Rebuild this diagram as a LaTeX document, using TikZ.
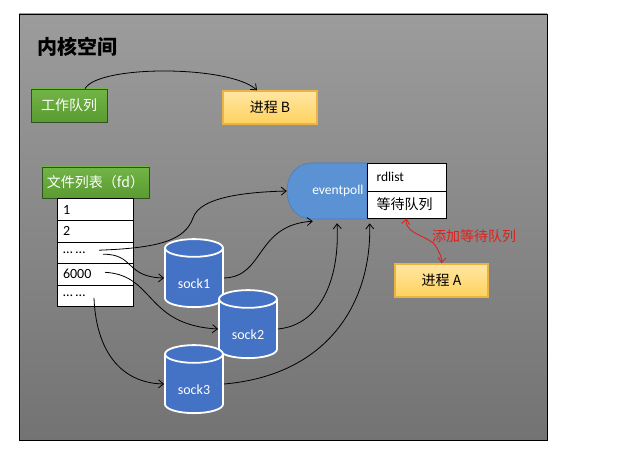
\documentclass[tikz,border=0pt]{standalone}
\usepackage{fontspec}
\setmainfont{Carlito}
\newfontfamily\cjk{Noto Sans CJK SC}
\usetikzlibrary{arrows.meta,shapes.geometric,calc}
\definecolor{panelTop}{HTML}{9C9C9C}
\definecolor{panelBot}{HTML}{737373}
\definecolor{grnTop}{HTML}{73B447}
\definecolor{grnBot}{HTML}{5A9B32}
\definecolor{grnLine}{HTML}{2F5220}
\definecolor{ylwTop}{HTML}{FFE6A3}
\definecolor{ylwBot}{HTML}{FFD25E}
\definecolor{ylwLine}{HTML}{E9B443}
\definecolor{epFill}{HTML}{5A92D4}
\definecolor{epLine}{HTML}{4A7EBE}
\definecolor{cylFill}{HTML}{4472C4}
\definecolor{redArrow}{HTML}{E0201C}
\newcommand{\lowtext}[1]{\raisebox{-10pt}[0pt][0pt]{#1}}
\begin{document}
\begin{tikzpicture}[x=1pt,y=-1pt,
  greenbox/.style={draw=grnLine, line width=0.8pt, top color=grnTop, bottom color=grnBot, text=white, font=\cjk\fontsize{14}{14}\selectfont, inner sep=0pt},
  yellowbox/.style={draw=ylwLine, line width=1.4pt, top color=ylwTop, bottom color=ylwBot, text=black, font=\cjk\fontsize{14}{14}\selectfont, inner sep=0pt, minimum width=93pt, minimum height=33pt},
  fdrow/.style={draw=black, line width=0.8pt, fill=white, minimum width=76pt, minimum height=21.6pt, inner sep=0pt, text width=64pt, align=left, font=\fontsize{14}{14}\selectfont},
  rdrow/.style={draw=black, line width=0.8pt, fill=white, minimum width=79pt, inner sep=0pt, text width=60pt, align=left},
  sock/.style={cylinder, shape border rotate=90, aspect=0.55, draw=white, line width=1.8pt, fill=cylFill, minimum width=58pt, minimum height=68pt, inner sep=0pt, text=white, font=\fontsize{14}{14}\selectfont},
  link/.style={-{Straight Barb[length=5pt,width=8pt]}, line width=0.8pt, black},
  redlink/.style={{Straight Barb[length=5pt,width=8pt]}-{Straight Barb[length=5pt,width=8pt]}, line width=0.9pt, redArrow}
]
\useasboundingbox (0,0) rectangle (623,454);
\shade[top color=panelTop, bottom color=panelBot] (19,14) rectangle (547,440);
\draw[black, line width=0.9pt] (19,14) rectangle (547,440);

\node[anchor=west, font=\cjk\bfseries\fontsize{20}{20}\selectfont] (title) at (34,47) {内核空间};

\node[greenbox, minimum width=76pt, minimum height=33pt] (wq) at (69,105.5) {工作队列};
\node[yellowbox, minimum width=94pt] (pb) at (270,107.5) {进程 B};

\node[greenbox, minimum width=107pt, minimum height=31pt] (fl) at (95.5,182.5) {文件列表（fd）};
\node[fdrow] (r1) at (95,209.5) {1};
\node[fdrow] (r2) at (95,231.1) {2};
\node[fdrow] (r3) at (95,252.7) {…\hspace{3pt}…};
\node[fdrow] (r4) at (95,274.3) {6000};
\node[fdrow] (r5) at (95,295.9) {…\hspace{3pt}…};

% eventpoll shape
\filldraw[fill=epFill, draw=epLine, line width=0.6pt] (367,163) -- (312,163) .. controls (296,163) and (287,176) .. (287,191) .. controls (287,206) and (296,219) .. (312,219) -- (367,219) -- cycle;
\node[minimum width=80pt, minimum height=56pt, inner sep=0pt, text width=73pt, align=right, text=white, font=\fontsize{13.5}{13.5}\selectfont] (ep) at (327,191) {eventpoll};

\node[rdrow, minimum height=28pt, font=\fontsize{13.5}{13.5}\selectfont] (rd1) at (406.5,177) {rdlist};
\node[rdrow, minimum height=27pt, font=\cjk\fontsize{14}{14}\selectfont] (rd2) at (406.5,204.5) {等待队列};

\node[yellowbox] (pa) at (441.5,280.5) {进程 A};

\node[sock] (s1) at (194,278) {\lowtext{sock1}};
\node[sock] (s2) at (248,329) {\lowtext{sock2}};
\node[sock] (s3) at (194,384) {\lowtext{sock3}};

\node[text=redArrow, font=\cjk\fontsize{14}{14}\selectfont] (addlbl) at (474,236) {添加等待队列};

% connectors
\draw[link] ($(wq.north)+(16,0)$) .. controls +(14,-24) and +(-27,-25) .. ($(pb.north)+(-13,0)$);

\coordinate (r3a) at ($(r3.center)+(4,-2.5)$);
\coordinate (r3b) at ($(r3.center)+(8,1.5)$);
\coordinate (r4a) at ($(r4.center)+(10,-2)$);
\coordinate (r5a) at ($(r5.center)+(-1,2)$);

\draw[link] (r3a) .. controls (160,248) and (185,240) .. (193,218) .. controls (200,196) and (250,192) .. (ep.west);
\draw[link] (r3b) .. controls (135,254) and (125,277) .. (s1.west);
\draw[link] (r4a) .. controls (155,275) and (145,325) .. (s2.west);
\draw[link] (r5a) .. controls (96,350) and (120,383) .. (s3.west);

\draw[link] (s1.east) .. controls (265,277) and (255,225) .. ($(ep.south west)+(26,2)$);
\draw[link] (s2.east) .. controls (320,325) and (340,280) .. ($(ep.south)+(10,4)$);
\draw[link] (s3.east) .. controls (330,375) and (372,300) .. ($(rd2.south west)+(3,5)$);

\draw[redlink] (rd2.south) .. controls (404,235) and (432,236) .. (437,248) .. controls (440,254) and (442,258) .. (pa.north);
\end{tikzpicture}
\end{document}
